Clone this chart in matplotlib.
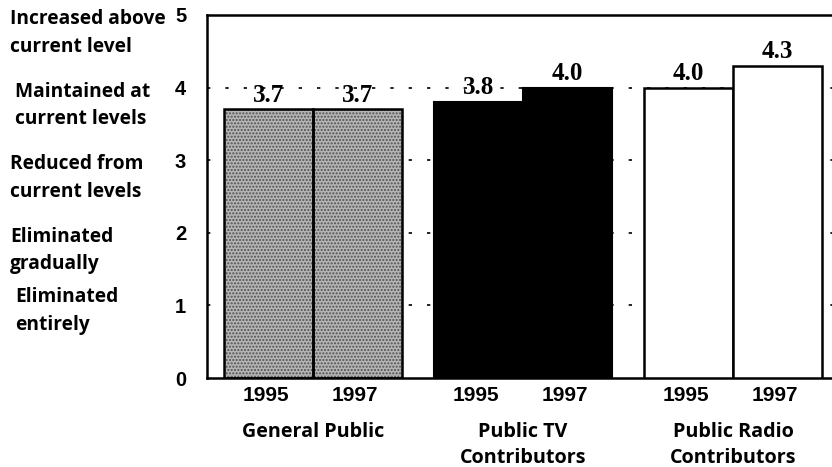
import matplotlib
matplotlib.use("Agg")
import matplotlib.pyplot as plt
import matplotlib.transforms as mtransforms
import numpy as np

# ── data ─────────────────────────────────────────────────────────────────────
groups = ["General Public", "Public TV\nContributors", "Public Radio\nContributors"]
years = ["1995", "1997"]
values = [[3.7, 3.7], [3.8, 4.0], [4.0, 4.3]]
scale_labels = [
    "Increased above\ncurrent level",
    "Maintained at\ncurrent levels",
    "Reduced from\ncurrent levels",
    "Eliminated\ngradually",
    "Eliminated\nentirely",
]
scale_levels = [5, 4, 3, 2, 1]

# ── style ────────────────────────────────────────────────────────────────────
LABEL_FONT = ["Open Sans", "DejaVu Sans"]
NUM_FONT = ["Liberation Sans", "DejaVu Sans"]
VALUE_FONT = ["Liberation Serif", "DejaVu Serif"]
group_gap = 0.36
bar_w = 1.0

fig = plt.figure(figsize=(8.32, 4.67), dpi=100)
ax = fig.add_axes([207 / 832, 89 / 467, 625 / 832, 363 / 467])

# dotted reference lines behind bars
for lvl in range(1, 5):
    ax.axhline(lvl, color="black", lw=1.2, ls=(0, (2, 9)), zorder=0)

for g, (name, vals) in enumerate(zip(groups, values)):
    x0 = g * (2 * bar_w + group_gap)
    xs = x0 + np.arange(len(vals)) * bar_w
    if g == 0:
        ax.bar(xs, vals, width=bar_w, align="edge", color="#b5b5b5",
               hatch=".....", edgecolor="#505050", lw=0, zorder=2)
        ax.bar(xs, vals, width=bar_w, align="edge", fill=False,
               edgecolor="black", lw=1.8, zorder=3)
    elif g == 1:
        ax.bar(xs, vals, width=bar_w, align="edge", color="black",
               edgecolor="black", lw=1.5, zorder=3)
    else:
        ax.bar(xs, vals, width=bar_w, align="edge", color="white",
               edgecolor="black", lw=1.8, zorder=3)
    for x, v, yr in zip(xs, vals, years):
        ax.annotate(f"{v:.1f}", (x + bar_w / 2, v), xytext=(0, 2),
                    textcoords="offset points", ha="center", va="bottom",
                    fontsize=18, fontweight="bold", family=VALUE_FONT)
        ax.annotate(yr, (x + bar_w / 2, 0), xytext=(-2, -6),
                    textcoords="offset points", ha="center", va="top",
                    fontsize=15, fontweight="bold", family=NUM_FONT)
    ax.annotate(name, (x0 + bar_w, 0), xytext=(0, -32),
                textcoords="offset points", ha="center", va="top",
                fontsize=14.2, fontweight="bold", family=LABEL_FONT,
                linespacing=1.38)

ax.set_xlim(-0.19, 6.83)
ax.set_ylim(0, 5)
ax.set_xticks([])
ax.set_yticks(range(0, 6))
ax.set_yticklabels([str(i) for i in range(0, 6)], fontsize=14.5,
                   fontweight="bold", family=NUM_FONT)
ax.tick_params(axis="y", length=0, pad=15)
ax.spines["right"].set_visible(False)
for s in ["left", "top", "bottom"]:
    ax.spines[s].set_linewidth(1.8)

# verbal scale on the far left
trans = mtransforms.blended_transform_factory(fig.transFigure, ax.transData)
for lab, lvl in zip(scale_labels, scale_levels):
    y = lvl + 0.08 if lvl > 1 else lvl + 0.25
    indent = lab.startswith(("Maintained",)) or lab.endswith("entirely")
    dx = (15 if indent else 10) / 832
    ax.text(dx, y, lab, transform=trans, ha="left", va="top",
            fontsize=13.8, fontweight="bold", family=LABEL_FONT,
            linespacing=1.5, clip_on=False)

fig.savefig("out.png", dpi=100)
